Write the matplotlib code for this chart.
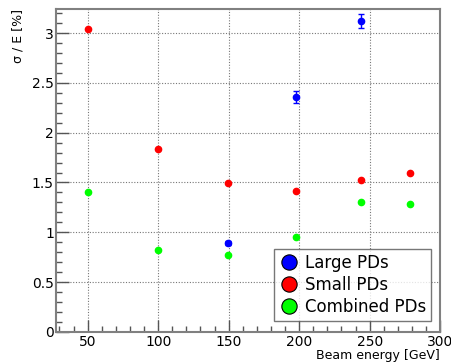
import matplotlib
matplotlib.use("Agg")
import matplotlib.pyplot as plt
from matplotlib.ticker import MultipleLocator
from matplotlib.lines import Line2D

# beam energies [GeV] and resolutions [%]
large_e = [149.5, 197.5, 243.5]
large_res = [0.89, 2.355, 3.125]
large_err = [0.02, 0.06, 0.07]

small_e = [50, 100, 149.5, 197.5, 243.5, 278.5]
small_res = [3.04, 1.835, 1.495, 1.415, 1.525, 1.595]
small_err = [0.027, 0.01, 0.01, 0.01, 0.01, 0.01]

comb_e = [50, 100, 149.5, 197.5, 243.5, 278.5]
comb_res = [1.405, 0.82, 0.775, 0.955, 1.305, 1.285]

fig = plt.figure(figsize=(4.51, 3.64), dpi=100)
ax = fig.add_axes([0.124, 0.088, 0.852, 0.887])

ax.errorbar(large_e, large_res, yerr=large_err, fmt="o", color="#0000ff",
            ms=4.5, elinewidth=1, capsize=2, capthick=1, zorder=3)
ax.errorbar(small_e, small_res, yerr=small_err, fmt="o", color="#ff0000",
            ms=4.5, elinewidth=1, capsize=0, zorder=3)
ax.plot(comb_e, comb_res, "o", color="#00ff00", ms=4.5, zorder=3)

ax.set_xlim(27.5, 300)
ax.set_ylim(0, 3.24)
ax.xaxis.set_major_locator(MultipleLocator(50))
ax.xaxis.set_minor_locator(MultipleLocator(10))
ax.yaxis.set_minor_locator(MultipleLocator(0.1))
ax.set_yticks([0, 0.5, 1, 1.5, 2, 2.5, 3])
ax.set_yticklabels(["0", "0.5", "1", "1.5", "2", "2.5", "3"])

ax.grid(True, which="major", color="#777777", linestyle=(0, (1, 1.5)), linewidth=0.8)
ax.tick_params(which="both", direction="in", colors="#555555", labelcolor="black",
               labelsize=10, top=False, right=False)
ax.tick_params(which="major", length=9, width=1)
ax.tick_params(which="minor", length=4.5, width=1)
ax.tick_params(axis="x", pad=2)
ax.tick_params(axis="y", pad=1.5)
for s in ax.spines.values():
    s.set_color("#808080")
    s.set_linewidth(1.5)

ax.set_xlabel("Beam energy [GeV]", fontsize=9, loc="right", labelpad=0)
ax.set_ylabel("σ / E [%]", fontsize=9, loc="top", labelpad=5)

handles = [Line2D([], [], marker="o", ls="", mfc=c, mec="black", mew=0.8, ms=11)
           for c in ["#0000ff", "#ff0000", "#00ff00"]]
leg = ax.legend(handles, ["Large PDs", "Small PDs", "Combined PDs"],
                loc="lower right", bbox_to_anchor=(0.977, 0.034), fontsize=12,
                frameon=True, fancybox=False, handletextpad=0.35,
                borderpad=0.3, labelspacing=0.25, handlelength=1.2,
                borderaxespad=0)
leg.get_frame().set_edgecolor("#555555")
leg.get_frame().set_linewidth(1)

fig.savefig("out.png", dpi=100)
